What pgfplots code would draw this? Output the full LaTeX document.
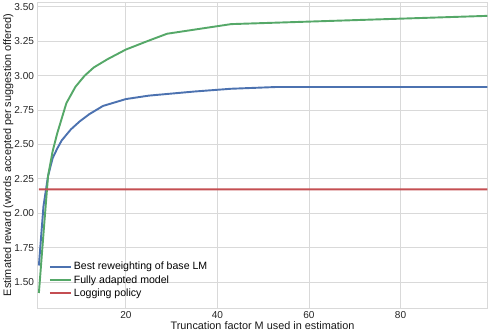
\documentclass[border=0pt]{standalone}
\usepackage{pgfplots}
\pgfplotsset{compat=1.18}
\usepackage{fontspec}
\setmainfont{Liberation Sans}
\definecolor{sbblue}{HTML}{4C72B0}
\definecolor{sbgreen}{HTML}{55A868}
\definecolor{sbred}{HTML}{C44E52}
\definecolor{gridgrey}{HTML}{D9D9D9}
\begin{document}
\begin{tikzpicture}
  \begin{axis}[
      scale only axis,
      width=447pt, height=304pt,
      xmin=0.7, xmax=99,
      ymin=1.31, ymax=3.535,
      xtick={20,40,60,80},
      ytick={1.5,1.75,2,2.25,2.5,2.75,3,3.25,3.5},
      yticklabel style={/pgf/number format/.cd, fixed, fixed zerofill, precision=2},
      /pgf/number format/assume math mode=true,
      tick style={draw=none},
      grid=major,
      major grid style={gridgrey, line width=0.9pt},
      axis line style={gridgrey, line width=1pt},
      tick label style={font=\fontsize{10}{12}\selectfont, text=black!85},
      label style={font=\fontsize{10.8}{12}\selectfont, text=black!90},
      xlabel={Truncation factor M used in estimation},
      ylabel={Estimated reward (words accepted per suggestion offered)},
      xlabel style={yshift=4pt},
      ylabel style={yshift=-6pt},
      legend style={at={(0.018,0.02)}, anchor=south west, draw=none, fill=none,
        font=\fontsize{10.5}{12}\selectfont, row sep=0pt},
      legend cell align=left,
      legend image code/.code={\draw[#1] (0pt,0pt) -- (21pt,0pt);},
    ]
    \addplot[sbblue, line width=1.9pt] coordinates {
      (1,1.62) (2,2.05) (3,2.27) (4,2.40) (5,2.47) (6,2.53) (8,2.61)
      (10,2.67) (12,2.72) (15,2.78) (18,2.81) (20,2.83) (25,2.855)
      (30,2.87) (35,2.885) (43,2.905) (53,2.918) (99,2.918)};
    \addlegendentry{Best reweighting of base LM}
    \addplot[sbgreen, line width=1.9pt] coordinates {
      (1,1.42) (2,1.85) (3,2.27) (4,2.45) (5,2.58) (7,2.80) (9,2.92)
      (11,3.00) (13,3.06) (16,3.12) (20,3.19) (25,3.255) (29,3.305)
      (35,3.335) (43,3.375) (99,3.435)};
    \addlegendentry{Fully adapted model}
    \addplot[sbred, line width=1.9pt] coordinates {(1,2.173) (50,2.1731) (99,2.173)};
    \addlegendentry{Logging policy}
  \end{axis}
\end{tikzpicture}
\end{document}
